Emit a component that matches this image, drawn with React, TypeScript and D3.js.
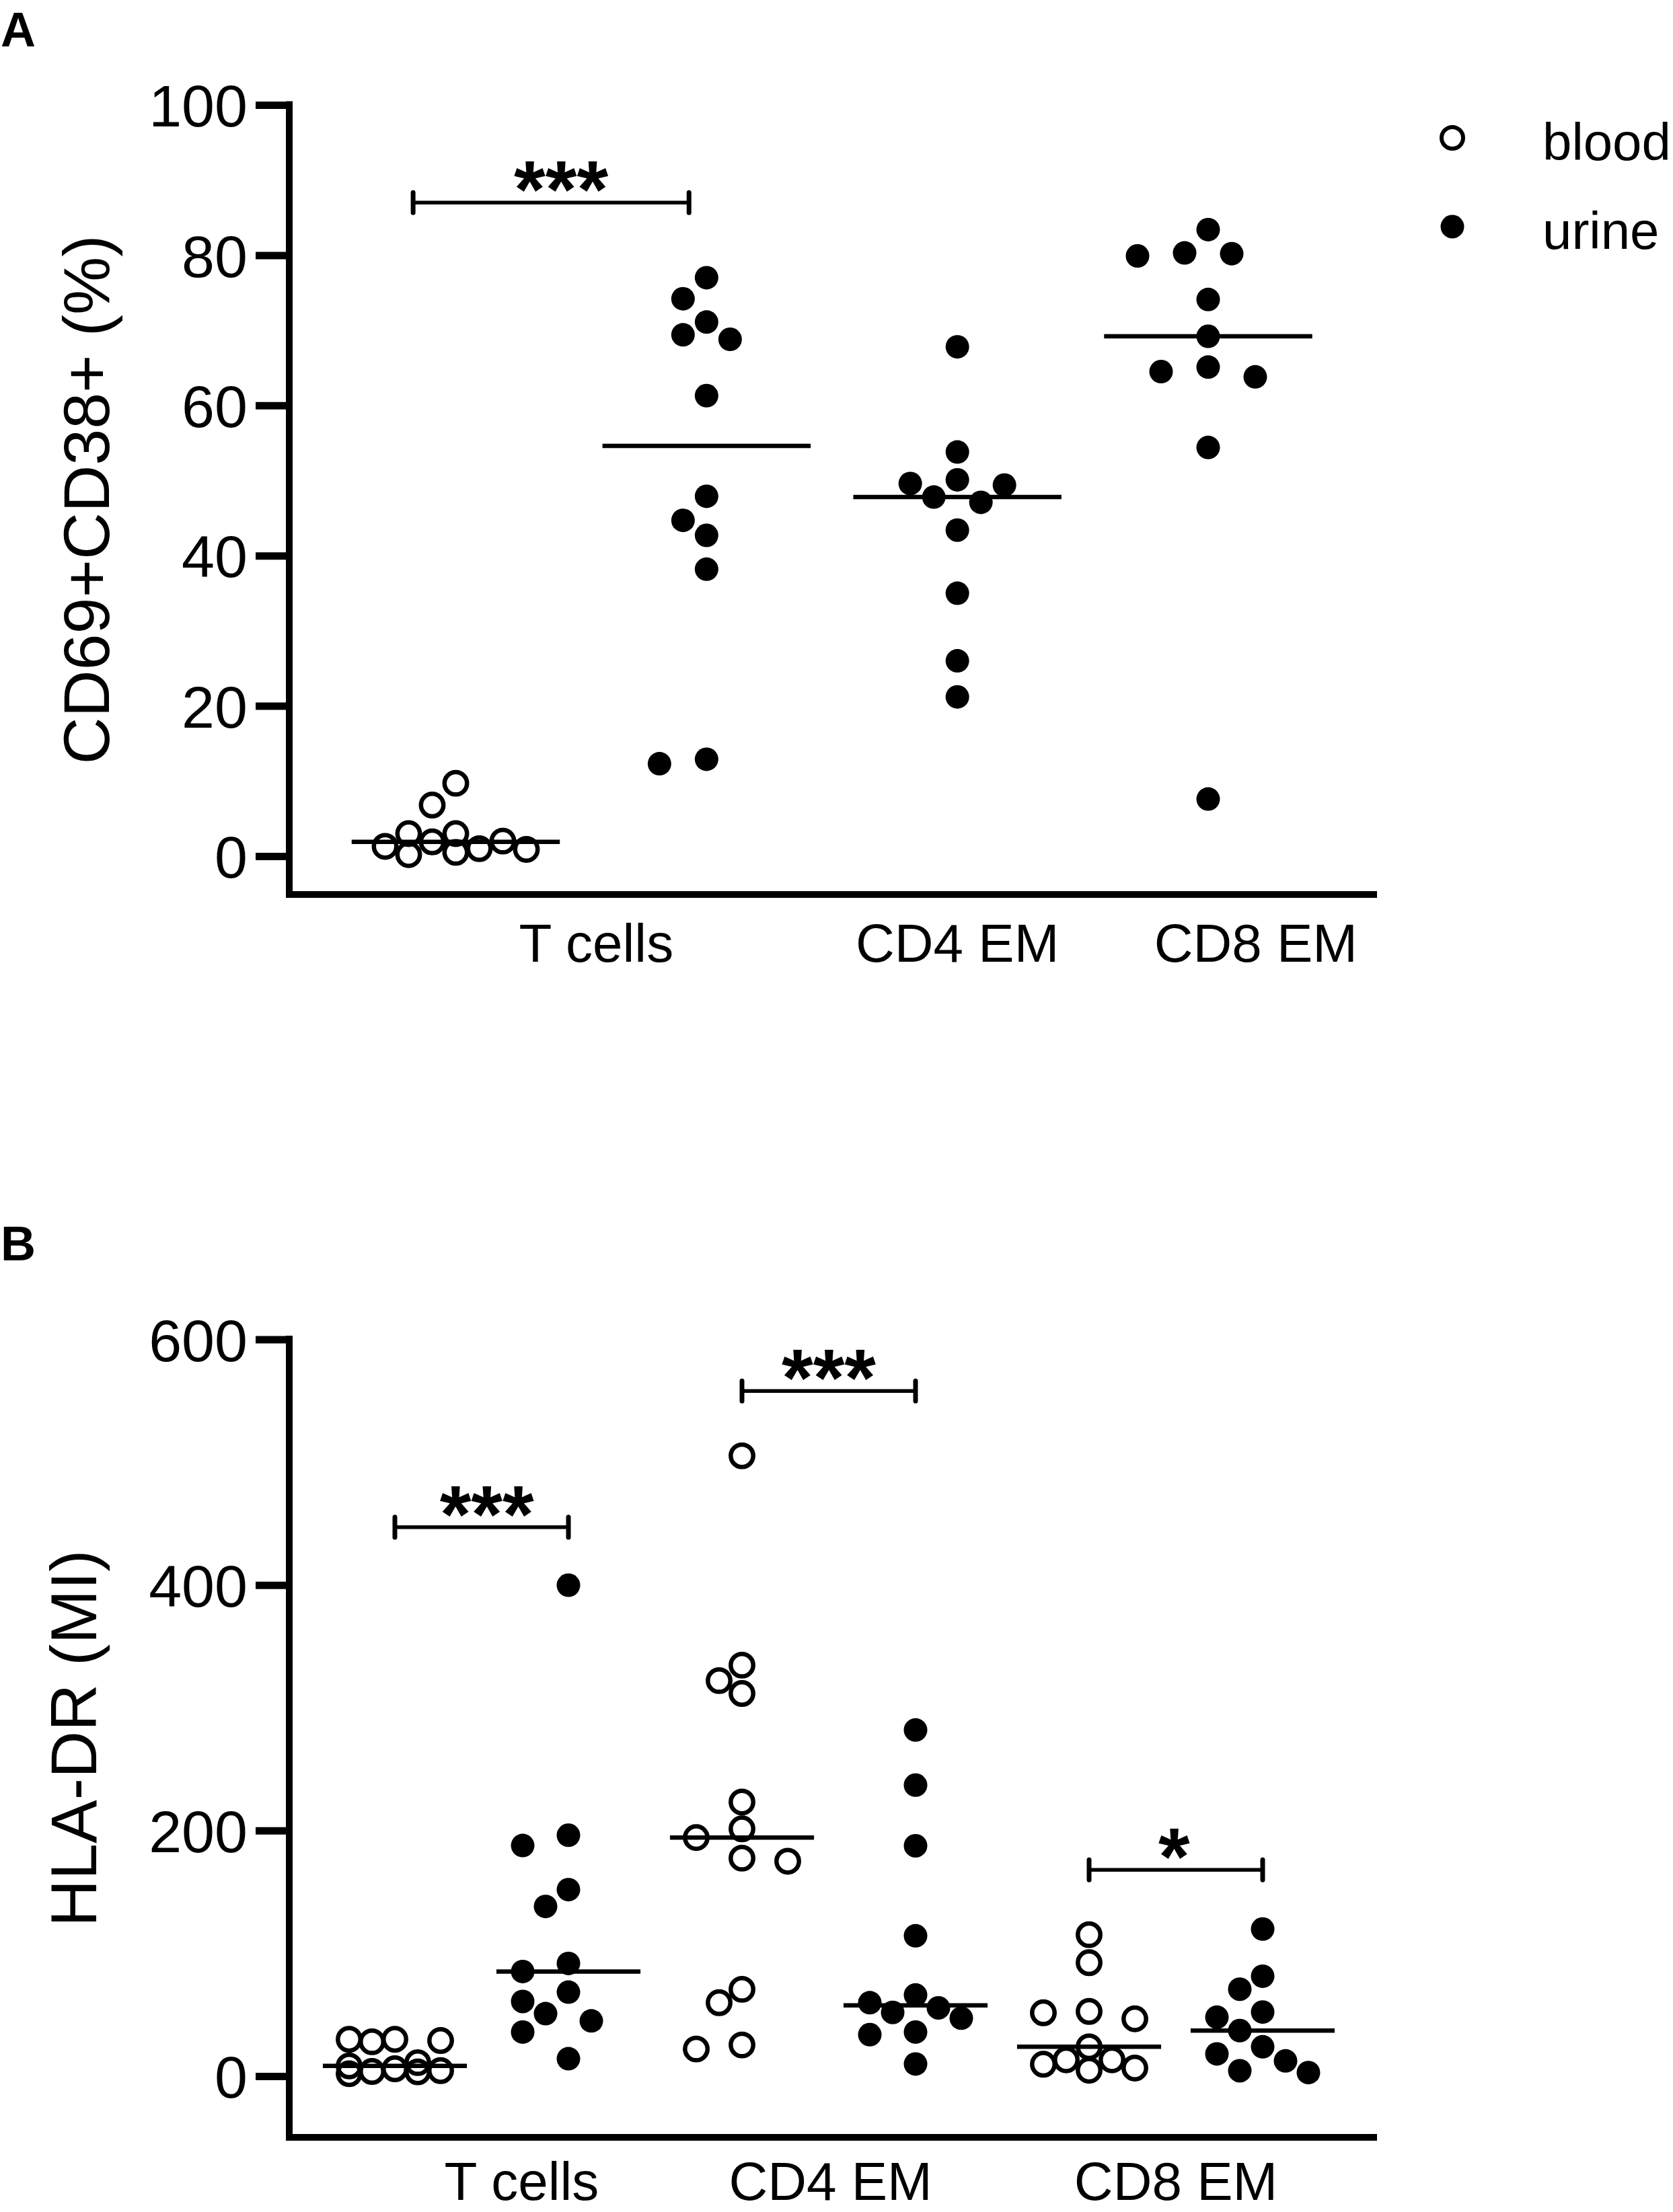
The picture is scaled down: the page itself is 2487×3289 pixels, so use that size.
import React, { useEffect, useRef } from "react";
import * as d3 from "d3";

// ---- panel A: CD69+CD38+ (%) ----
const aColumns = ["T cells blood", "T cells urine", "CD4 EM urine", "CD8 EM urine"];
const aSource = ["blood", "urine", "urine", "urine"];
const aTBlood = [9.7, 6.8, 3.0, 3.0, 2.0, 1.9, 1.3, 1.0, 0.9, 0.5, 0.2];
const aTUrine = [77.0, 74.2, 71.1, 69.4, 68.8, 61.3, 47.9, 44.7, 42.7, 38.2, 12.9, 12.3];
const aCD4Urine = [67.8, 53.8, 50.1, 49.6, 49.4, 47.8, 47.1, 43.4, 35.0, 26.0, 21.2];
const aCD8Urine = [83.4, 80.3, 80.2, 79.9, 74.1, 69.2, 65.1, 64.5, 63.8, 54.4, 7.6];
const aTicks = [0, 20, 40, 60, 80, 100];
const aCategories = ["T cells", "CD4 EM", "CD8 EM"];
const aSig = [{ from: -0.17, to: 0.93, value: 87, label: "***" }];

// ---- panel B: HLA-DR (MI) ----
const bColumns = [
  "T cells blood",
  "T cells urine",
  "CD4 EM blood",
  "CD4 EM urine",
  "CD8 EM blood",
  "CD8 EM urine",
];
const bSource = ["blood", "urine", "blood", "urine", "blood", "urine"];
const bTBlood = [30, 30, 29, 28, 11, 8.3, 6, 4.5, 3.8, 3.5, 2];
const bTUrine = [399.8, 196.2, 187.8, 151.9, 138.2, 91.8, 85.2, 68.4, 60.8, 50.9, 45.0, 35.9, 14.2];
const bCD4Blood = [505.2, 334.7, 322.1, 311.6, 223.2, 201.4, 194.3, 177.5, 175, 70.7, 59.8, 25.4, 22.1];
const bCD4Urine = [281.9, 237, 187.6, 114.3, 66.1, 59.8, 55.6, 51.9, 47.2, 35.9, 33.8, 9.9];
const bCD8Blood = [115.2, 92.4, 52.7, 51.6, 46.7, 23.9, 13.3, 13.3, 9.7, 6.6, 4.8];
const bCD8Urine = [119.8, 81.4, 70.8, 52.2, 48, 37.1, 23.9, 18.1, 12.4, 4.4, 2.9];
const bTicks = [0, 200, 400, 600];
const bCategories = ["T cells", "CD4 EM", "CD8 EM"];
const bSig = [
  { from: 0, to: 1, value: 447, label: "***" },
  { from: 2, to: 3, value: 558, label: "***" },
  { from: 4, to: 5, value: 168, label: "*" },
];

const legendItems = ["blood", "urine"];

const FONT = "'Liberation Sans', Arial, Helvetica, sans-serif";

const panels = [
  {
    letter: "A",
    letterY: 69,
    title: "CD69+CD38+ (%)",
    titleX: 162,
    columns: aColumns,
    source: aSource,
    series: [aTBlood, aTUrine, aCD4Urine, aCD8Urine],
    ticks: aTicks,
    categories: aCategories,
    categoryAt: [0.56, 2, 3.19],
    labelDy: 100,
    sig: aSig,
    sigMid: [0.42],
    yPx: [1273, 156],
    axisY: 1330,
    colPx: [677.5, 1796],
    swarmStep: 35,
    swarmMax: 107,
  },
  {
    letter: "B",
    letterY: 1874,
    title: "HLA-DR (MI)",
    titleX: 143,
    columns: bColumns,
    source: bSource,
    series: [bTBlood, bTUrine, bCD4Blood, bCD4Urine, bCD8Blood, bCD8Urine],
    ticks: bTicks,
    categories: bCategories,
    categoryAt: [0.73, 2.51, 4.5],
    labelDy: 93,
    sig: bSig,
    sigMid: [0.53, 2.5, 4.49],
    yPx: [3087, 1991.5],
    axisY: 3178,
    colPx: [587, 1877],
    swarmStep: 34,
    swarmMax: 69,
  },
];

const AXIS_X = 430;
const AXIS_END = 2047;
const DOT_R = 17.5;
const RING_R = 16.7;

// simple column-scatter layout: try center, then alternating side slots
function swarm(values: number[], cx: number, y: (v: number) => number, step: number, maxOff: number) {
  const slots = [0];
  for (let k = 1; k * step <= maxOff; k++) slots.push(-k * step, k * step);
  const minDist = 2 * 19;
  const placed: { x: number; y: number }[] = [];
  values.forEach((v) => {
    const py = y(v);
    let best = 0;
    let bestScore = -Infinity;
    for (const s of slots) {
      const px = cx + s;
      const d = placed.length
        ? d3.min(placed, (p) => Math.hypot(p.x - px, p.y - py))!
        : Infinity;
      if (d >= minDist) {
        best = s;
        break;
      }
      if (d > bestScore) {
        bestScore = d;
        best = s;
      }
    }
    placed.push({ x: cx + best, y: py });
  });
  return placed;
}

function drawPanel(svg: d3.Selection<SVGSVGElement, unknown, null, undefined>, p: any) {
  const y = d3
    .scaleLinear()
    .domain([0, d3.max(p.ticks as number[])!])
    .range(p.yPx);
  const x = d3
    .scaleLinear()
    .domain([0, p.columns.length - 1])
    .range(p.colPx);
  const step = x(1) - x(0);

  const g = svg.append("g");

  // panel letter
  g.append("text")
    .attr("x", 1)
    .attr("y", p.letterY)
    .attr("font-family", FONT)
    .attr("font-weight", "bold")
    .attr("font-size", 72)
    .text(p.letter);

  // y title
  const midY = (y.range()[1] - 5 + p.axisY + 5) / 2;
  g.append("text")
    .attr("transform", `translate(${p.titleX},${midY}) rotate(-90)`)
    .attr("text-anchor", "middle")
    .attr("font-family", FONT)
    .attr("font-size", 97)
    .text(p.title);

  // y axis ticks + labels
  const yAxis = g
    .append("g")
    .attr("transform", `translate(${AXIS_X},0)`)
    .call(
      d3
        .axisLeft(y)
        .tickValues(p.ticks)
        .tickSize(50)
        .tickPadding(12)
        .tickFormat((d) => String(d))
    );
  yAxis.select(".domain").remove();
  yAxis.selectAll(".tick line").attr("stroke", "#000").attr("stroke-width", 11);
  yAxis
    .selectAll(".tick text")
    .attr("font-family", FONT)
    .attr("font-size", 88)
    .attr("fill", "#000")
    .attr("dy", "0.36em");

  // axis lines
  g.append("line")
    .attr("x1", AXIS_X)
    .attr("x2", AXIS_X)
    .attr("y1", y(d3.max(p.ticks as number[])!) - 5.5)
    .attr("y2", p.axisY + 5)
    .attr("stroke", "#000")
    .attr("stroke-width", 10);
  g.append("line")
    .attr("x1", AXIS_X - 5)
    .attr("x2", AXIS_END)
    .attr("y1", p.axisY)
    .attr("y2", p.axisY)
    .attr("stroke", "#000")
    .attr("stroke-width", 10);

  // category labels
  g.selectAll(".cat")
    .data(p.categories as string[])
    .join("text")
    .attr("x", (_, i) => x(p.categoryAt[i]))
    .attr("y", p.axisY + p.labelDy)
    .attr("text-anchor", "middle")
    .attr("font-family", FONT)
    .attr("font-size", 80)
    .text((d) => d);

  // points
  (p.series as number[][]).forEach((vals, i) => {
    const pts = swarm(vals, x(i), y, p.swarmStep, p.swarmMax);
    const open = p.source[i] === "blood";
    g.append("g")
      .selectAll("circle")
      .data(pts)
      .join("circle")
      .attr("cx", (d) => d.x)
      .attr("cy", (d) => d.y)
      .attr("r", open ? RING_R : DOT_R)
      .attr("fill", open ? "none" : "#000")
      .attr("stroke", open ? "#000" : "none")
      .attr("stroke-width", open ? 6.5 : 0);

    // median line
    const med = d3.median(vals)!;
    g.append("line")
      .attr("x1", x(i) - step * 0.415)
      .attr("x2", x(i) + step * 0.415)
      .attr("y1", y(med))
      .attr("y2", y(med))
      .attr("stroke", "#000")
      .attr("stroke-width", 6.5);
  });

  // significance brackets
  (p.sig as any[]).forEach((s, i) => {
    const by = y(s.value);
    const x1 = x(s.from);
    const x2 = x(s.to);
    g.append("line")
      .attr("x1", x1)
      .attr("x2", x2)
      .attr("y1", by)
      .attr("y2", by)
      .attr("stroke", "#000")
      .attr("stroke-width", 5.5);
    [x1, x2].forEach((cx) =>
      g
        .append("line")
        .attr("x1", cx)
        .attr("x2", cx)
        .attr("y1", by - 15)
        .attr("y2", by + 15)
        .attr("stroke", "#000")
        .attr("stroke-width", 7)
        .attr("stroke-linecap", "round")
    );
    g.append("text")
      .attr("x", x(p.sigMid[i]))
      .attr("y", by + 22)
      .attr("text-anchor", "middle")
      .attr("font-family", FONT)
      .attr("font-weight", "bold")
      .attr("font-size", 120)
      .text(s.label);
  });
}

const App = () => {
  const svgRef = useRef<SVGSVGElement | null>(null);

  useEffect(() => {
    const svg = d3.select(svgRef.current!);
    svg.selectAll("*").remove();

    svg.append("rect").attr("width", 2487).attr("height", 3289).attr("fill", "#fff");

    panels.forEach((p) => drawPanel(svg, p));

    // legend
    const legend = svg.append("g");
    legendItems.forEach((name, i) => {
      const cy = 205 + i * 132;
      const open = name === "blood";
      legend
        .append("circle")
        .attr("cx", 2159)
        .attr("cy", cy)
        .attr("r", open ? 16 : 17.5)
        .attr("fill", open ? "none" : "#000")
        .attr("stroke", open ? "#000" : "none")
        .attr("stroke-width", open ? 6 : 0);
      legend
        .append("text")
        .attr("x", 2293)
        .attr("y", cy + 33)
        .attr("font-family", FONT)
        .attr("font-size", 78)
        .text(name);
    });
  }, []);

  return (
    <svg
      ref={svgRef}
      width={2487}
      height={3289}
      style={{ position: "absolute", left: 0, top: 0, display: "block" }}
    />
  );
};

export default App;
